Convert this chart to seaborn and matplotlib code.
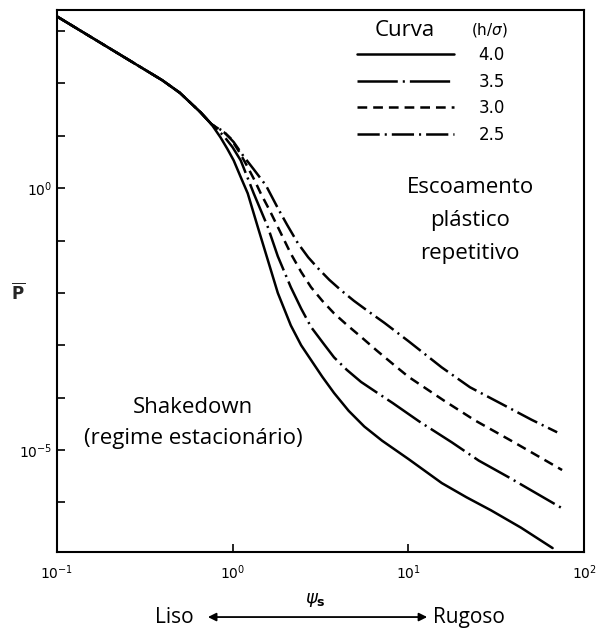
import seaborn as sns
import matplotlib.pyplot as plt
import numpy as np
import pandas as pd

# curve values (log10 of psi_s and of P-bar)
log_psi_40 = [-1.0, -0.7, -0.4, -0.3, -0.183, -0.12, -0.069, -0.03, 0.006, 0.045, 0.086, 0.143, 0.2, 0.257,
              0.331, 0.39, 0.446, 0.51, 0.577, 0.66, 0.749, 0.85, 1.0, 1.19, 1.33, 1.47, 1.64, 1.82]
log_p_40 = [3.28, 2.67, 2.06, 1.82, 1.45, 1.22, 0.97, 0.75, 0.53, 0.22, -0.10, -0.74, -1.37, -2.0,
            -2.62, -3.0, -3.28, -3.6, -3.91, -4.25, -4.55, -4.82, -5.17, -5.63, -5.90, -6.15, -6.48, -6.87]

log_psi_35 = [-1.0, -0.7, -0.4, -0.3, -0.183, -0.12, -0.051, 0.0, 0.046, 0.085, 0.12, 0.16, 0.2, 0.257, 0.331,
              0.39, 0.446, 0.52, 0.577, 0.65, 0.731, 0.82, 0.91, 1.06, 1.246, 1.4, 1.571, 1.874]
log_p_35 = [3.28, 2.67, 2.06, 1.82, 1.45, 1.22, 1.0, 0.78, 0.53, 0.2, -0.10, -0.42, -0.74, -1.30, -1.89,
            -2.3, -2.65, -2.98, -3.23, -3.47, -3.70, -3.9, -4.1, -4.45, -4.85, -5.2, -5.52, -6.11]

log_psi_30 = [-1.0, -0.7, -0.4, -0.3, -0.183, -0.12, -0.05, -0.011, 0.04, 0.086, 0.125, 0.16, 0.21, 0.257, 0.331,
              0.39, 0.446, 0.51, 0.577, 0.65, 0.731, 0.82, 0.92, 1.0, 1.2, 1.377, 1.6, 1.874]
log_p_30 = [3.28, 2.67, 2.06, 1.82, 1.45, 1.22, 1.07, 0.95, 0.68, 0.40, 0.15, -0.10, -0.42, -0.74, -1.25,
            -1.6, -1.89, -2.15, -2.39, -2.61, -2.84, -3.1, -3.38, -3.60, -4.05, -4.43, -4.85, -5.38]

log_psi_25 = [-1.0, -0.7, -0.4, -0.3, -0.183, -0.12, -0.05, 0.006, 0.06, 0.12, 0.19, 0.257, 0.31, 0.371, 0.43,
              0.486, 0.55, 0.617, 0.69, 0.771, 0.863, 1.0, 1.189, 1.35, 1.531, 1.7, 1.846]
log_p_25 = [3.28, 2.67, 2.06, 1.82, 1.45, 1.22, 1.08, 0.88, 0.62, 0.36, 0.05, -0.38, -0.70, -1.05, -1.32,
            -1.53, -1.75, -1.95, -2.15, -2.35, -2.57, -2.92, -3.42, -3.80, -4.12, -4.42, -4.66]

curvas = ['4.0', '3.5', '3.0', '2.5']
series = {
    '4.0': (log_psi_40, log_p_40),
    '3.5': (log_psi_35, log_p_35),
    '3.0': (log_psi_30, log_p_30),
    '2.5': (log_psi_25, log_p_25),
}

rows = []
for c in curvas:
    lx, ly = series[c]
    for a, b in zip(lx, ly):
        rows.append({'psi': 10 ** a, 'P': 10 ** b, 'h_sigma': c})
df = pd.DataFrame(rows)

sns.set_style('ticks')
plt.rcParams['font.family'] = ['DejaVu Sans']
plt.rcParams['text.color'] = 'black'
plt.rcParams['lines.scale_dashes'] = False
plt.rcParams['axes.linewidth'] = 1.5

fig = plt.figure(figsize=(5.98, 6.29), dpi=100)
ax = fig.add_axes([0.095, 0.122, 0.882, 0.862])

estilos = {
    '4.0': '',
    '3.5': (29, 3.6, 1.5, 3.6),
    '3.0': (7, 4.3),
    '2.5': (16, 3.6, 1.5, 3.6),
}
sns.lineplot(data=df, x='psi', y='P', style='h_sigma', style_order=curvas,
             dashes=estilos, color='black', linewidth=1.8, estimator=None,
             sort=False, legend=False, ax=ax)

ax.set_xscale('log')
ax.set_yscale('log')
ax.set_xlim(1e-1, 1e2)
ax.set_ylim(10 ** -6.95, 10 ** 3.4)

ax.xaxis.set_major_locator(plt.FixedLocator([1e-1, 1e0, 1e1, 1e2]))
ax.xaxis.set_minor_locator(plt.NullLocator())
ax.xaxis.set_major_formatter(plt.FuncFormatter(lambda v, p: r'$10^{%d}$' % round(np.log10(v))))
ax.yaxis.set_major_locator(plt.FixedLocator([10.0 ** k for k in range(-7, 4)]))
ax.yaxis.set_minor_locator(plt.NullLocator())
ax.yaxis.set_major_formatter(plt.FuncFormatter(
    lambda v, p: r'$10^{%d}$' % round(np.log10(v)) if round(np.log10(v)) in (0, -5) else ''))
ax.tick_params(direction='in', length=6, width=1.2, labelsize=10, colors='black')
ax.tick_params(axis='x', pad=8)
for s in ax.spines.values():
    s.set_visible(True)
    s.set_color('black')

ax.set_xlabel('')
ax.set_ylabel(r'$\overline{\mathbf{P}}$', rotation=0, fontsize=12, va='center')
ax.yaxis.set_label_coords(-0.074, 0.478)

# legend
handles = list(ax.lines)
ax.legend(handles, curvas, loc='upper left', bbox_to_anchor=(0.569, 0.934),
          frameon=False, borderpad=0, borderaxespad=0, handlelength=5.8,
          handletextpad=1.5, labelspacing=0.52, fontsize=12)
fig.text(0.677, 0.952, 'Curva', ha='center', va='center', fontsize=16, family='Open Sans')
fig.text(0.819, 0.952, r'(h/$\sigma$)', ha='center', va='center', fontsize=11)

ax.text(0.784, 0.6125, 'Escoamento\nplástico\nrepetitivo', transform=ax.transAxes,
        ha='center', va='center', fontsize=16, family='Open Sans', linespacing=1.75)
ax.text(0.258, 0.238, 'Shakedown\n(regime estacionário)', transform=ax.transAxes,
        ha='center', va='center', fontsize=16, family='Open Sans', linespacing=1.65)

fig.text(0.527, 0.046, r'$\psi_\mathbf{s}$', ha='center', va='center', fontsize=13)
fig.text(0.291, 0.019, 'Liso', ha='center', va='center', fontsize=15, family='Open Sans')
fig.text(0.784, 0.019, 'Rugoso', ha='center', va='center', fontsize=15, family='Open Sans')
ax.annotate('', xy=(0.343, 0.019), xytext=(0.719, 0.019), xycoords='figure fraction',
            textcoords='figure fraction',
            arrowprops=dict(arrowstyle='<|-|>', color='black', lw=1.3, mutation_scale=12))

plt.savefig('out.png', dpi=100)
